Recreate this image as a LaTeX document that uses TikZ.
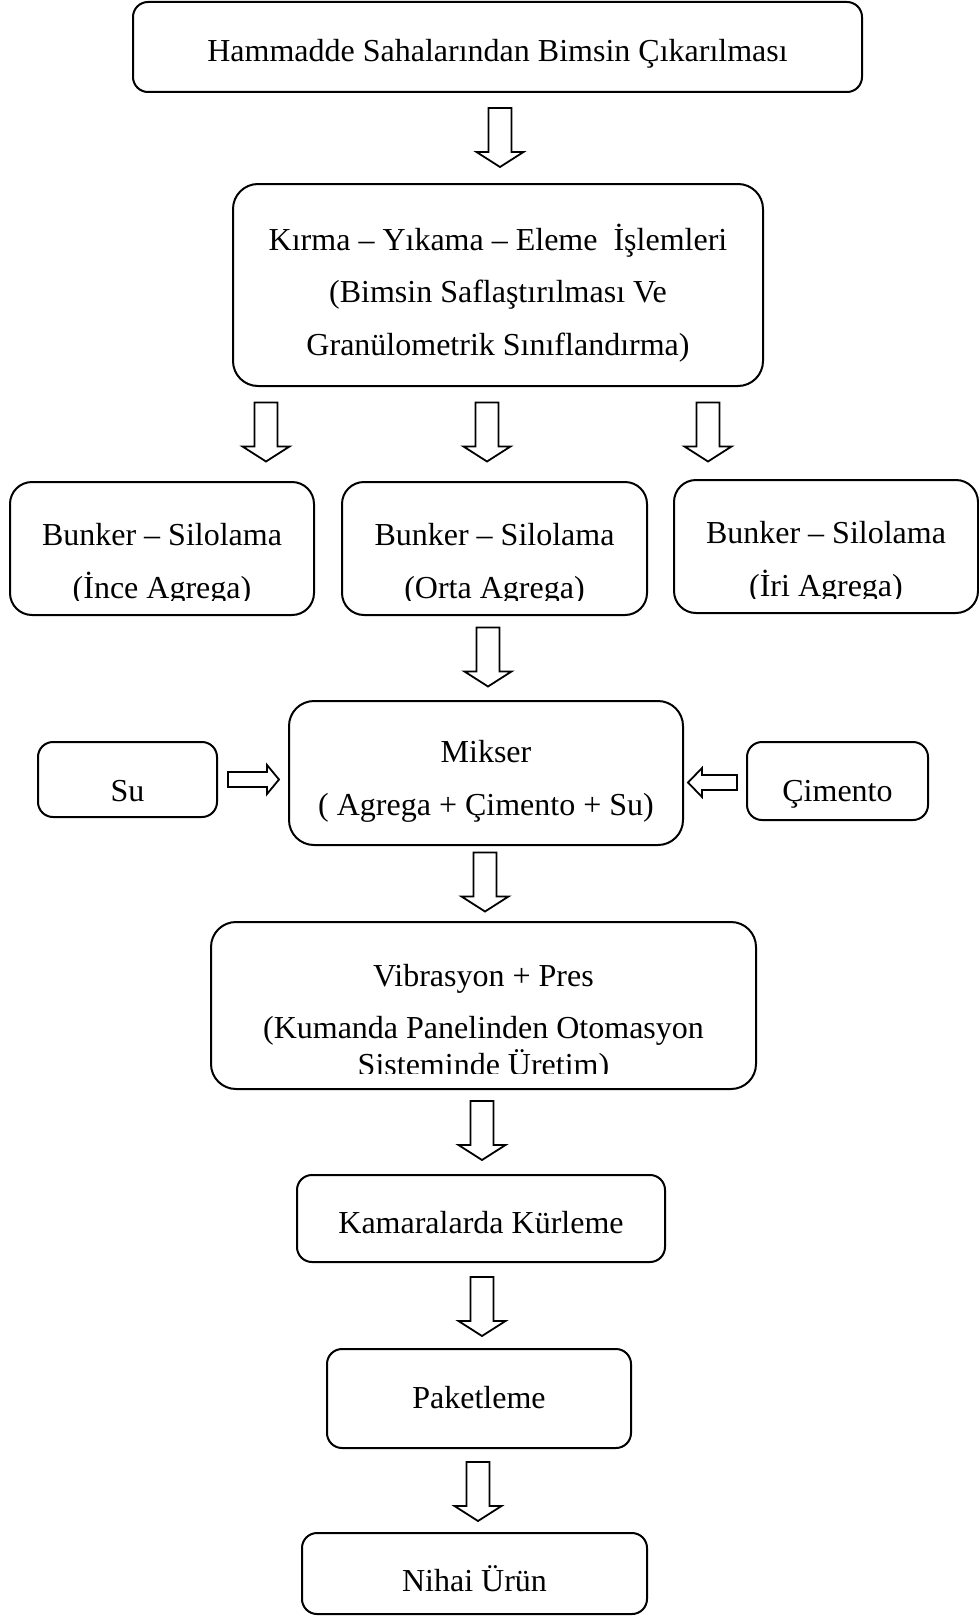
\documentclass[tikz,border=0pt]{standalone}
\usepackage{fontspec}
\setmainfont{Liberation Serif}
\usetikzlibrary{fit}
\tikzset{
  box/.style={draw, line width=1pt, inner sep=0pt},
  txt/.style={font=\fontsize{16}{19}\selectfont, inner sep=0pt, anchor=base},
  blk/.style={draw, line width=0.9pt, line join=miter},
  % hollow block arrows, origin at the arrow's middle
  downblock/.pic={\path[blk] (-11.5,-29.5) -- (11.5,-29.5) -- (11.5,14.5) -- (23.5,14.5)
      -- (0,29.5) -- (-23.5,14.5) -- (-11.5,14.5) -- cycle;},
  rightblock/.pic={\path[blk] (-25.5,-7.5) -- (13.5,-7.5) -- (13.5,-14.5) -- (25.5,0)
      -- (13.5,14.5) -- (13.5,7.5) -- (-25.5,7.5) -- cycle;},
  leftblock/.pic={\path[blk] (24.5,-7.5) -- (-10.5,-7.5) -- (-10.5,-14.5) -- (-24.5,0)
      -- (-10.5,14.5) -- (-10.5,7.5) -- (24.5,7.5) -- cycle;},
}
\begin{document}
\begin{tikzpicture}[x=0.5pt,y=-0.5pt]
\useasboundingbox (0,0) rectangle (979,1616);

% process boxes
\node[box, rounded corners=7.5pt,  fit={(133,2) (862,92)}]    (hammadde) {};
\node[box, rounded corners=12.5pt, fit={(233,184) (763,386)}] (kirma) {};
\node[box, rounded corners=11pt,   fit={(10,482) (314,615)}]  (ince) {};
\node[box, rounded corners=11pt,   fit={(342,482) (647,615)}] (orta) {};
\node[box, rounded corners=11pt,   fit={(674,480) (978,613)}] (iri) {};
\node[box, rounded corners=7.5pt,  fit={(38,742) (217,817)}]  (su) {};
\node[box, rounded corners=12.5pt, fit={(289,701) (683,845)}] (mikser) {};
\node[box, rounded corners=7.5pt,  fit={(747,742) (928,820)}] (cimento) {};
\node[box, rounded corners=12.5pt, fit={(211,922) (756,1089)}] (vib) {};
\node[box, rounded corners=7.5pt,  fit={(297,1175) (665,1262)}] (kamara) {};
\node[box, rounded corners=7.5pt,  fit={(327,1349) (631,1448)}] (paket) {};
\node[box, rounded corners=7.5pt,  fit={(302,1533) (647,1614)}] (nihai) {};

% box texts
\node[txt] (t-ham) at (497.5,62) {Hammadde Sahalarından Bimsin Çıkarılması};
\node[txt] (t-kir1) at (498,250) {Kırma – Yıkama – Eleme \ İşlemleri};
\node[txt] (t-kir2) at (498,302) {(Bimsin Saflaştırılması Ve};
\node[txt] (t-kir3) at (498,355) {Granülometrik Sınıflandırma)};

\node[txt] (t-ince1) at (162,545) {Bunker – Silolama};
\node[txt] (t-orta1) at (494.5,545) {Bunker – Silolama};
\node[txt] (t-iri1)  at (826,543) {Bunker – Silolama};
\begin{scope}
  \clip (0,0) rectangle (979,600);
  \node[txt] (t-ince2) at (162,598) {(İnce Agrega)};
  \node[txt] (t-orta2) at (494.5,598) {(Orta Agrega)};
\end{scope}
\begin{scope}
  \clip (0,0) rectangle (979,598);
  \node[txt] (t-iri2) at (826,596) {(İri Agrega)};
\end{scope}

\node[txt] (t-su) at (127.5,801) {Su};
\node[txt] (t-mik1) at (486,762) {Mikser};
\node[txt] (t-mik2) at (486,815) {( Agrega + Çimento + Su)};
\node[txt] (t-cim) at (837.5,801) {Çimento};

\node[txt] (t-vib1) at (483.5,986) {Vibrasyon + Pres};
\node[txt] (t-vib2) at (483.5,1038) {(Kumanda Panelinden Otomasyon};
\begin{scope}
  \clip (0,0) rectangle (979,1073);
  \node[txt] (t-vib3) at (483.5,1075) {Sisteminde Üretim)};
\end{scope}

\node[txt] (t-kam) at (481,1233) {Kamaralarda Kürleme};
\node[txt] (t-pak) at (479,1408) {Paketleme};
\node[txt] (t-nih) at (474.5,1591) {Nihai Ürün};

% flow arrows
\pic (ar-ham) at (500,137.5) {downblock};
\pic (ar-ince) at (266,432) {downblock};
\pic (ar-orta) at (487,432) {downblock};
\pic (ar-iri) at (708,432) {downblock};
\pic (ar-orta-mik) at (488,657) {downblock};
\pic (ar-su) at (253.5,779.5) {rightblock};
\pic (ar-cim) at (712.5,782.5) {leftblock};
\pic (ar-mik) at (485,882) {downblock};
\pic (ar-vib) at (482,1130.5) {downblock};
\pic (ar-kam) at (482,1306.5) {downblock};
\pic (ar-pak) at (478,1491.5) {downblock};
\end{tikzpicture}
\end{document}
